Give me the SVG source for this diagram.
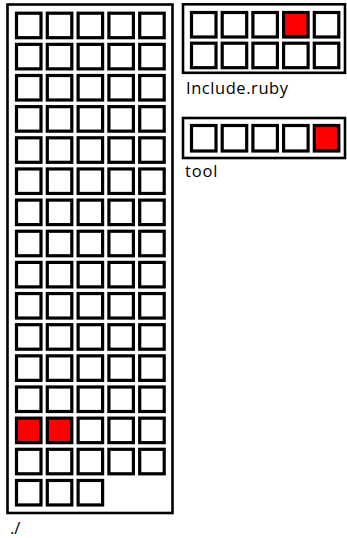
<svg xmlns="http://www.w3.org/2000/svg" width="347" height="538" viewBox="0 0 347 538">
<style>
.box{fill:#fff;stroke:#000;stroke-width:2.6}
.cell{fill:#fff;stroke:#000;stroke-width:3.2}
.red{fill:#ff0000}
.lbl{font-family:"Open Sans","Liberation Sans",sans-serif;font-size:16.5px;fill:#000}
</style>
<rect width="347" height="538" fill="#fff"/>
<g id="root">
<rect class="box" x="7.5" y="4.5" width="165" height="508.5"/>
<g id="root-cells">
<rect class="cell" x="16.5" y="13.2" width="24.5" height="24.5"/><rect class="cell" x="47.3" y="13.2" width="24.5" height="24.5"/><rect class="cell" x="78.1" y="13.2" width="24.5" height="24.5"/><rect class="cell" x="108.9" y="13.2" width="24.5" height="24.5"/><rect class="cell" x="139.7" y="13.2" width="24.5" height="24.5"/>
<rect class="cell" x="16.5" y="44.35" width="24.5" height="24.5"/><rect class="cell" x="47.3" y="44.35" width="24.5" height="24.5"/><rect class="cell" x="78.1" y="44.35" width="24.5" height="24.5"/><rect class="cell" x="108.9" y="44.35" width="24.5" height="24.5"/><rect class="cell" x="139.7" y="44.35" width="24.5" height="24.5"/>
<rect class="cell" x="16.5" y="75.5" width="24.5" height="24.5"/><rect class="cell" x="47.3" y="75.5" width="24.5" height="24.5"/><rect class="cell" x="78.1" y="75.5" width="24.5" height="24.5"/><rect class="cell" x="108.9" y="75.5" width="24.5" height="24.5"/><rect class="cell" x="139.7" y="75.5" width="24.5" height="24.5"/>
<rect class="cell" x="16.5" y="106.65" width="24.5" height="24.5"/><rect class="cell" x="47.3" y="106.65" width="24.5" height="24.5"/><rect class="cell" x="78.1" y="106.65" width="24.5" height="24.5"/><rect class="cell" x="108.9" y="106.65" width="24.5" height="24.5"/><rect class="cell" x="139.7" y="106.65" width="24.5" height="24.5"/>
<rect class="cell" x="16.5" y="137.8" width="24.5" height="24.5"/><rect class="cell" x="47.3" y="137.8" width="24.5" height="24.5"/><rect class="cell" x="78.1" y="137.8" width="24.5" height="24.5"/><rect class="cell" x="108.9" y="137.8" width="24.5" height="24.5"/><rect class="cell" x="139.7" y="137.8" width="24.5" height="24.5"/>
<rect class="cell" x="16.5" y="168.95" width="24.5" height="24.5"/><rect class="cell" x="47.3" y="168.95" width="24.5" height="24.5"/><rect class="cell" x="78.1" y="168.95" width="24.5" height="24.5"/><rect class="cell" x="108.9" y="168.95" width="24.5" height="24.5"/><rect class="cell" x="139.7" y="168.95" width="24.5" height="24.5"/>
<rect class="cell" x="16.5" y="200.1" width="24.5" height="24.5"/><rect class="cell" x="47.3" y="200.1" width="24.5" height="24.5"/><rect class="cell" x="78.1" y="200.1" width="24.5" height="24.5"/><rect class="cell" x="108.9" y="200.1" width="24.5" height="24.5"/><rect class="cell" x="139.7" y="200.1" width="24.5" height="24.5"/>
<rect class="cell" x="16.5" y="231.25" width="24.5" height="24.5"/><rect class="cell" x="47.3" y="231.25" width="24.5" height="24.5"/><rect class="cell" x="78.1" y="231.25" width="24.5" height="24.5"/><rect class="cell" x="108.9" y="231.25" width="24.5" height="24.5"/><rect class="cell" x="139.7" y="231.25" width="24.5" height="24.5"/>
<rect class="cell" x="16.5" y="262.4" width="24.5" height="24.5"/><rect class="cell" x="47.3" y="262.4" width="24.5" height="24.5"/><rect class="cell" x="78.1" y="262.4" width="24.5" height="24.5"/><rect class="cell" x="108.9" y="262.4" width="24.5" height="24.5"/><rect class="cell" x="139.7" y="262.4" width="24.5" height="24.5"/>
<rect class="cell" x="16.5" y="293.55" width="24.5" height="24.5"/><rect class="cell" x="47.3" y="293.55" width="24.5" height="24.5"/><rect class="cell" x="78.1" y="293.55" width="24.5" height="24.5"/><rect class="cell" x="108.9" y="293.55" width="24.5" height="24.5"/><rect class="cell" x="139.7" y="293.55" width="24.5" height="24.5"/>
<rect class="cell" x="16.5" y="324.7" width="24.5" height="24.5"/><rect class="cell" x="47.3" y="324.7" width="24.5" height="24.5"/><rect class="cell" x="78.1" y="324.7" width="24.5" height="24.5"/><rect class="cell" x="108.9" y="324.7" width="24.5" height="24.5"/><rect class="cell" x="139.7" y="324.7" width="24.5" height="24.5"/>
<rect class="cell" x="16.5" y="355.85" width="24.5" height="24.5"/><rect class="cell" x="47.3" y="355.85" width="24.5" height="24.5"/><rect class="cell" x="78.1" y="355.85" width="24.5" height="24.5"/><rect class="cell" x="108.9" y="355.85" width="24.5" height="24.5"/><rect class="cell" x="139.7" y="355.85" width="24.5" height="24.5"/>
<rect class="cell" x="16.5" y="387" width="24.5" height="24.5"/><rect class="cell" x="47.3" y="387" width="24.5" height="24.5"/><rect class="cell" x="78.1" y="387" width="24.5" height="24.5"/><rect class="cell" x="108.9" y="387" width="24.5" height="24.5"/><rect class="cell" x="139.7" y="387" width="24.5" height="24.5"/>
<rect class="cell red" x="16.5" y="418.15" width="24.5" height="24.5"/><rect class="cell red" x="47.3" y="418.15" width="24.5" height="24.5"/><rect class="cell" x="78.1" y="418.15" width="24.5" height="24.5"/><rect class="cell" x="108.9" y="418.15" width="24.5" height="24.5"/><rect class="cell" x="139.7" y="418.15" width="24.5" height="24.5"/>
<rect class="cell" x="16.5" y="449.3" width="24.5" height="24.5"/><rect class="cell" x="47.3" y="449.3" width="24.5" height="24.5"/><rect class="cell" x="78.1" y="449.3" width="24.5" height="24.5"/><rect class="cell" x="108.9" y="449.3" width="24.5" height="24.5"/><rect class="cell" x="139.7" y="449.3" width="24.5" height="24.5"/>
<rect class="cell" x="16.5" y="480.45" width="24.5" height="24.5"/><rect class="cell" x="47.3" y="480.45" width="24.5" height="24.5"/><rect class="cell" x="78.1" y="480.45" width="24.5" height="24.5"/>
</g>
<text class="lbl" x="10" y="534">./</text>
</g>
<g id="include-ruby">
<rect class="box" x="183" y="4.3" width="162" height="68.5"/>
<rect class="cell" x="191.5" y="12.5" width="24.5" height="24.5"/><rect class="cell" x="222.2" y="12.5" width="24.5" height="24.5"/><rect class="cell" x="252.9" y="12.5" width="24.5" height="24.5"/><rect class="cell red" x="283.6" y="12.5" width="24.5" height="24.5"/><rect class="cell" x="314.3" y="12.5" width="24.5" height="24.5"/>
<rect class="cell" x="191.5" y="43.2" width="24.5" height="24.5"/><rect class="cell" x="222.2" y="43.2" width="24.5" height="24.5"/><rect class="cell" x="252.9" y="43.2" width="24.5" height="24.5"/><rect class="cell" x="283.6" y="43.2" width="24.5" height="24.5"/><rect class="cell" x="314.3" y="43.2" width="24.5" height="24.5"/>
<text class="lbl" x="186" y="93.5" textLength="102" lengthAdjust="spacing">Include.ruby</text>
</g>
<g id="tool">
<rect class="box" x="183" y="118" width="162" height="40"/>
<rect class="cell" x="191.5" y="125.5" width="24.5" height="25.5"/><rect class="cell" x="222.2" y="125.5" width="24.5" height="25.5"/><rect class="cell" x="252.9" y="125.5" width="24.5" height="25.5"/><rect class="cell" x="283.6" y="125.5" width="24.5" height="25.5"/><rect class="cell red" x="314.3" y="125.5" width="24.5" height="25.5"/>
<text class="lbl" x="185" y="176.5" textLength="32.5" lengthAdjust="spacing">tool</text>
</g>
<g id="connectors"></g>
</svg>
